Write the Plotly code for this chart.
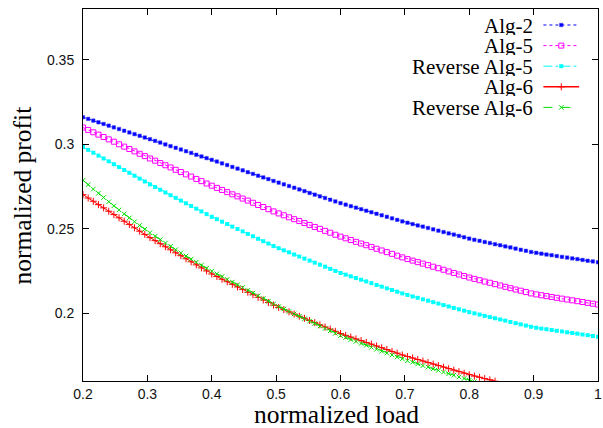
import plotly.graph_objects as go

# ---------------- data ----------------
LOAD = [0.2, 0.208, 0.216, 0.224, 0.232, 0.24, 0.248, 0.256, 0.264, 0.272, 0.28, 0.288, 0.296,
        0.304, 0.312, 0.32, 0.328, 0.336, 0.344, 0.352, 0.36, 0.368, 0.376, 0.384, 0.392,
        0.4, 0.408, 0.416, 0.424, 0.432, 0.44, 0.448, 0.456, 0.464, 0.472, 0.48, 0.488, 0.496,
        0.504, 0.512, 0.52, 0.528, 0.536, 0.544, 0.552, 0.56, 0.568, 0.576, 0.584, 0.592,
        0.6, 0.608, 0.616, 0.624, 0.632, 0.64, 0.648, 0.656, 0.664, 0.672, 0.68, 0.688, 0.696,
        0.704, 0.712, 0.72, 0.728, 0.736, 0.744, 0.752, 0.76, 0.768, 0.776, 0.784, 0.792,
        0.8, 0.808, 0.816, 0.824, 0.832, 0.84, 0.848, 0.856, 0.864, 0.872, 0.88, 0.888, 0.896,
        0.904, 0.912, 0.92, 0.928, 0.936, 0.944, 0.952, 0.96, 0.968, 0.976, 0.984, 0.992,
        1.0]

ALG2 = [0.3160, 0.3150, 0.3140, 0.3130, 0.3120, 0.3110, 0.3100, 0.3090, 0.3080, 0.3070, 0.3060, 0.3050, 0.3040,
        0.3030, 0.3020, 0.3010, 0.2999, 0.2989, 0.2979, 0.2969, 0.2959, 0.2949, 0.2938, 0.2928, 0.2918,
        0.2908, 0.2898, 0.2887, 0.2877, 0.2866, 0.2856, 0.2846, 0.2835, 0.2825, 0.2814, 0.2804, 0.2794, 0.2783,
        0.2773, 0.2763, 0.2753, 0.2743, 0.2733, 0.2723, 0.2712, 0.2702, 0.2692, 0.2682, 0.2672, 0.2662,
        0.2652, 0.2643, 0.2634, 0.2625, 0.2616, 0.2607, 0.2598, 0.2589, 0.2580, 0.2571, 0.2562, 0.2553, 0.2544,
        0.2536, 0.2528, 0.2520, 0.2513, 0.2505, 0.2497, 0.2489, 0.2481, 0.2473, 0.2466, 0.2458, 0.2450,
        0.2442, 0.2435, 0.2429, 0.2422, 0.2416, 0.2409, 0.2403, 0.2396, 0.2390, 0.2383, 0.2376, 0.2370, 0.2363,
        0.2358, 0.2353, 0.2348, 0.2344, 0.2339, 0.2334, 0.2330, 0.2325, 0.2321, 0.2316, 0.2311, 0.2307,
        0.2302]

ALG5 = [0.3099, 0.3085, 0.3071, 0.3057, 0.3043, 0.3029, 0.3015, 0.3000, 0.2986, 0.2972, 0.2958, 0.2944, 0.2930,
        0.2916, 0.2903, 0.2889, 0.2876, 0.2863, 0.2849, 0.2836, 0.2822, 0.2809, 0.2795, 0.2782, 0.2768,
        0.2755, 0.2742, 0.2730, 0.2717, 0.2704, 0.2692, 0.2679, 0.2667, 0.2654, 0.2641, 0.2629, 0.2616, 0.2603,
        0.2591, 0.2580, 0.2568, 0.2557, 0.2546, 0.2534, 0.2523, 0.2511, 0.2500, 0.2488, 0.2477, 0.2465,
        0.2454, 0.2444, 0.2434, 0.2423, 0.2413, 0.2403, 0.2393, 0.2382, 0.2372, 0.2362, 0.2352, 0.2341, 0.2331,
        0.2321, 0.2312, 0.2303, 0.2294, 0.2285, 0.2276, 0.2267, 0.2258, 0.2248, 0.2239, 0.2230, 0.2221,
        0.2212, 0.2204, 0.2196, 0.2188, 0.2181, 0.2173, 0.2165, 0.2157, 0.2149, 0.2141, 0.2134, 0.2126, 0.2118,
        0.2112, 0.2107, 0.2102, 0.2097, 0.2092, 0.2087, 0.2082, 0.2077, 0.2072, 0.2067, 0.2062, 0.2057,
        0.2052]

REV_ALG5 = [0.2984, 0.2967, 0.2950, 0.2933, 0.2916, 0.2899, 0.2882, 0.2865, 0.2848, 0.2831, 0.2814, 0.2797, 0.2780,
            0.2763, 0.2747, 0.2731, 0.2715, 0.2699, 0.2683, 0.2667, 0.2651, 0.2635, 0.2619, 0.2603, 0.2587,
            0.2571, 0.2557, 0.2542, 0.2528, 0.2513, 0.2499, 0.2485, 0.2470, 0.2456, 0.2441, 0.2427, 0.2413, 0.2398,
            0.2385, 0.2373, 0.2361, 0.2348, 0.2336, 0.2324, 0.2312, 0.2300, 0.2288, 0.2276, 0.2263, 0.2251,
            0.2239, 0.2229, 0.2219, 0.2209, 0.2199, 0.2189, 0.2179, 0.2168, 0.2158, 0.2148, 0.2138, 0.2128, 0.2118,
            0.2109, 0.2100, 0.2092, 0.2083, 0.2075, 0.2066, 0.2058, 0.2049, 0.2041, 0.2032, 0.2024, 0.2016,
            0.2007, 0.2000, 0.1993, 0.1985, 0.1978, 0.1971, 0.1964, 0.1957, 0.1949, 0.1942, 0.1935, 0.1928, 0.1921,
            0.1915, 0.1910, 0.1906, 0.1902, 0.1897, 0.1893, 0.1888, 0.1884, 0.1880, 0.1875, 0.1871, 0.1866,
            0.1862]

ALG6 = [0.2702, 0.2682, 0.2663, 0.2643, 0.2624, 0.2604, 0.2584, 0.2565, 0.2545, 0.2526, 0.2506, 0.2486, 0.2467,
        0.2448, 0.2430, 0.2412, 0.2394, 0.2376, 0.2358, 0.2341, 0.2323, 0.2305, 0.2287, 0.2269, 0.2251,
        0.2233, 0.2218, 0.2202, 0.2187, 0.2172, 0.2156, 0.2141, 0.2125, 0.2110, 0.2095, 0.2079, 0.2064, 0.2049,
        0.2035, 0.2022, 0.2009, 0.1996, 0.1983, 0.1971, 0.1958, 0.1945, 0.1932, 0.1919, 0.1907, 0.1894,
        0.1881, 0.1870, 0.1860, 0.1849, 0.1839, 0.1828, 0.1818, 0.1807, 0.1797, 0.1786, 0.1775, 0.1765, 0.1754,
        0.1745, 0.1736, 0.1727, 0.1718, 0.1709, 0.1700, 0.1691, 0.1682, 0.1673, 0.1664, 0.1655, 0.1646,
        0.1637, 0.1629, 0.1622, 0.1614, 0.1607, 0.1599]

REV_ALG6 = [0.2787, 0.2761, 0.2735, 0.2710, 0.2685, 0.2660, 0.2636, 0.2612, 0.2588, 0.2565, 0.2542, 0.2520, 0.2498,
            0.2477, 0.2456, 0.2436, 0.2416, 0.2397, 0.2377, 0.2358, 0.2339, 0.2321, 0.2303, 0.2285, 0.2267,
            0.2250, 0.2234, 0.2218, 0.2201, 0.2185, 0.2169, 0.2153, 0.2136, 0.2120, 0.2104, 0.2088, 0.2071, 0.2055,
            0.2040, 0.2026, 0.2011, 0.1997, 0.1983, 0.1968, 0.1954, 0.1940, 0.1925, 0.1911, 0.1897, 0.1882,
            0.1868, 0.1857, 0.1845, 0.1834, 0.1822, 0.1811, 0.1799, 0.1788, 0.1776, 0.1765, 0.1754, 0.1742, 0.1731,
            0.1720, 0.1711, 0.1701, 0.1691, 0.1682, 0.1672, 0.1663, 0.1653, 0.1643, 0.1634, 0.1624, 0.1615,
            0.1605, 0.1596]

SERIES_NAMES = ["Alg-2", "Alg-5", "Reverse Alg-5", "Alg-6", "Reverse Alg-6"]
SERIES_VALUES = [ALG2, ALG5, REV_ALG5, ALG6, REV_ALG6]

X_TICKS = [0.2, 0.3, 0.4, 0.5, 0.6, 0.7, 0.8, 0.9, 1.0]
X_TICK_LABELS = ["0.2", "0.3", "0.4", "0.5", "0.6", "0.7", "0.8", "0.9", "1"]
Y_TICKS = [0.2, 0.25, 0.3, 0.35]
Y_TICK_LABELS = ["0.2", "0.25", "0.3", "0.35"]

# ---------------- styles ----------------
STYLES = [
    dict(color="#0000ff", dash="dot", symbol="square", size=3.5, mlw=1, mlc="rgba(70,70,255,0.5)"),
    dict(color="#ff00ff", dash="dot", symbol="square-open", size=5, mlw=1, mlc="#ff00ff"),
    dict(color="#00ffff", dash="dashdot", symbol="square", size=4, mlw=0, mlc="#00ffff"),
    dict(color="#ff0000", dash="solid", symbol="cross-thin-open", size=5, mlw=1, mlc="#ff0000"),
    dict(color="#00e000", dash="dash", symbol="x-thin-open", size=4.5, mlw=1, mlc="#00e000"),
]

W, H = 603, 428
ML, MR, MT, MB = 83, 1, 9, 47

fig = go.Figure()

for name, vals, st in zip(SERIES_NAMES, SERIES_VALUES, STYLES):
    fig.add_trace(go.Scatter(
        x=LOAD[:len(vals)], y=vals, name=name, mode="lines+markers",
        line=dict(color=st["color"], width=1, dash=st["dash"]),
        marker=dict(symbol=st["symbol"], size=st["size"], color=st["color"],
                    line=dict(width=st["mlw"], color=st["mlc"])),
        showlegend=False, cliponaxis=True,
    ))

# ---------------- custom gnuplot-like legend (text left, sample right) ----------------
PX_L, PX_R = ML, W - MR
PX_T, PX_B = MT, H - MB
LEG_TEXT_RIGHT = 538
LEG_LINE_X0, LEG_LINE_X1 = 547, 583
LEG_ROW0, LEG_ROW_STEP = 25, 20.6

annotations = []
for i, (name, st) in enumerate(zip(SERIES_NAMES, STYLES)):
    yrow = LEG_ROW0 + i * LEG_ROW_STEP
    fig.add_trace(go.Scatter(
        x=[LEG_LINE_X0, LEG_LINE_X1], y=[yrow, yrow], mode="lines",
        line=dict(color=st["color"], width=1.6 if st["dash"] == "solid" else 1, dash=st["dash"]),
        xaxis="x2", yaxis="y2", showlegend=False, hoverinfo="skip",
    ))
    fig.add_trace(go.Scatter(
        x=[(LEG_LINE_X0 + LEG_LINE_X1) / 2], y=[yrow], mode="markers",
        marker=dict(symbol=st["symbol"], size=st["size"], color=st["color"],
                    line=dict(width=st["mlw"], color=st["mlc"])),
        xaxis="x2", yaxis="y2", showlegend=False, hoverinfo="skip",
    ))
    annotations.append(dict(
        x=LEG_TEXT_RIGHT, y=yrow, xref="x2", yref="y2", text=name, showarrow=False,
        xanchor="right", yanchor="middle", height=19, valign="middle", borderpad=0,
        font=dict(family="Liberation Serif", size=21, color="black"),
    ))

pw = W - ML - MR
ph = H - MT - MB
annotations.append(dict(
    x=(338 - ML) / pw, y=-(415 - PX_B) / ph, xref="paper", yref="paper", text="normalized load",
    showarrow=False, xanchor="center", yanchor="middle", height=23, valign="middle", borderpad=0,
    font=dict(family="Liberation Serif", size=25.5, color="black"),
))
annotations.append(dict(
    x=-(ML - 22) / pw, y=0.5, xref="paper", yref="paper", text="normalized profit",
    showarrow=False, xanchor="center", yanchor="middle", textangle=-90,
    font=dict(family="Liberation Serif", size=25.5, color="black"),
))

axis_common = dict(
    showline=True, linecolor="black", linewidth=1, mirror="ticks",
    ticks="inside", ticklen=6, tickwidth=1, tickcolor="black",
    showgrid=False, zeroline=False, ticklabeloverflow="allow",
    tickfont=dict(family="Liberation Sans", size=14, color="#111111"),
)

fig.update_layout(
    width=W, height=H,
    margin=dict(l=ML, r=MR, t=MT, b=MB, pad=0),
    paper_bgcolor="white", plot_bgcolor="white",
    xaxis=dict(range=[0.2, 1.0], tickvals=X_TICKS, ticktext=X_TICK_LABELS,
               ticklabelstandoff=0, **axis_common),
    yaxis=dict(range=[0.16, 0.38], tickvals=Y_TICKS, ticktext=Y_TICK_LABELS,
               ticklabelstandoff=5, **axis_common),
    xaxis2=dict(range=[PX_L, PX_R], overlaying="x", visible=False, fixedrange=True),
    yaxis2=dict(range=[PX_B, PX_T], overlaying="y", visible=False, fixedrange=True, anchor="x2"),
    annotations=annotations,
    showlegend=False,
)

fig.write_html("out.html")
